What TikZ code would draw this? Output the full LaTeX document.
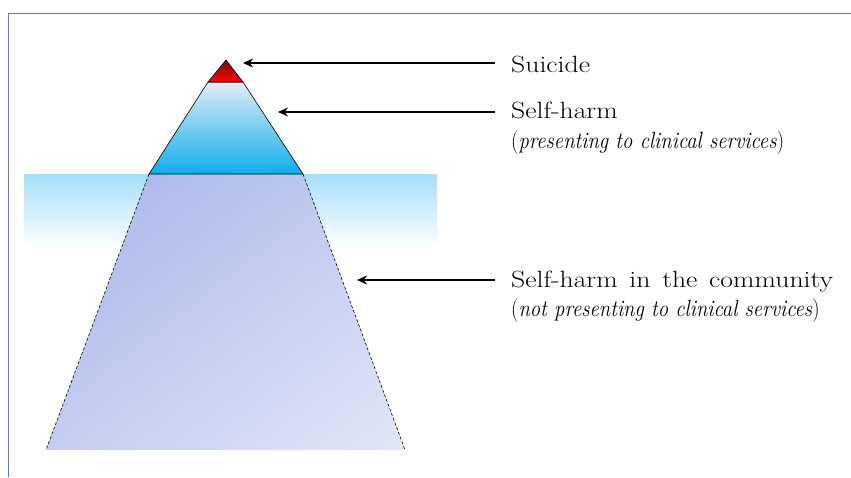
\documentclass[tikz,border=0pt]{standalone}
\usepackage{fontspec}
\usetikzlibrary{arrows.meta,shadings}
\newfontfamily\labfont{Latin Modern Roman}[FakeStretch=1.18,WordSpace=1.4]
\newfontfamily\sublabfont{Latin Modern Roman}[FakeStretch=0.88]
\definecolor{frameblue}{HTML}{5B7BC0}
\definecolor{tipdark}{HTML}{7A0000}
\definecolor{tipred}{HTML}{FF0A0A}
\definecolor{iceTop}{HTML}{E2ECF6}
\definecolor{iceBot}{HTML}{0EAEEA}
\definecolor{waterTop}{HTML}{A8DEFA}
\definecolor{subA}{HTML}{A6B4E9}
\definecolor{subB}{HTML}{E2E6F7}
\colorlet{subM}{subA!50!subB}
\tikzset{
  pointer/.style={line width=1.4pt,-{Stealth[length=10pt,width=9pt]}},
  lab/.style={anchor=base west,inner sep=0pt,font=\fontsize{23.5}{30}\labfont},
  sublab/.style={anchor=base west,inner sep=0pt,font=\fontsize{23.5}{30}\sublabfont},
}
\begin{document}
\begin{tikzpicture}[x=1pt,y=-1pt]
\useasboundingbox (0,0) rectangle (851,477);
% frame
\draw[frameblue,line width=1pt] (8.5,477) -- (8.5,13.5) -- (851,13.5);
% water band
\shade[top color=waterTop,bottom color=white] (24,174) rectangle (437,248);
% submerged part
\shade[upper left=subA,upper right=subM,lower left=subM,lower right=subB]
  (149,174) -- (303,174) -- (405,450) -- (46,450) -- cycle;
\draw[line width=0.6pt,dash pattern=on 3pt off 2pt] (149,174) -- (46,450);
\draw[line width=0.6pt,dash pattern=on 3pt off 2pt] (303,174) -- (405,450);
\draw[white,line width=0.6pt,dash pattern=on 3pt off 2pt] (46,450) -- (405,450);
% visible ice
\shade[draw=black,line width=0.6pt,top color=iceTop,bottom color=iceBot]
  (208,82) -- (243,82) -- (303,174) -- (149,174) -- cycle;
% tip
\shade[draw=black,line width=0.6pt,top color=tipdark,bottom color=tipred]
  (226,60) -- (243,82) -- (208,82) -- cycle;
% labels
\node[lab] (suicide) at (511,72) {Suicide};
\node[lab] (selfharm) at (511,118) {Self-harm};
\node[sublab] (selfharmsub) at (511,148) {(\textit{presenting to clinical services})};
\node[lab] (community) at (511,287) {Self-harm in the community};
\node[sublab] (communitysub) at (511,316) {(\textit{not presenting to clinical services})};
% arrow coordinates
\coordinate (s1) at (495,63);   \coordinate (e1) at (243,63);
\coordinate (s2) at (495,112);  \coordinate (e2) at (278,112);
\coordinate (s3) at (495,280);  \coordinate (e3) at (357,280);
\draw[pointer] (s1) -- (e1);
\draw[pointer] (s2) -- (e2);
\draw[pointer] (s3) -- (e3);
\end{tikzpicture}
\end{document}
